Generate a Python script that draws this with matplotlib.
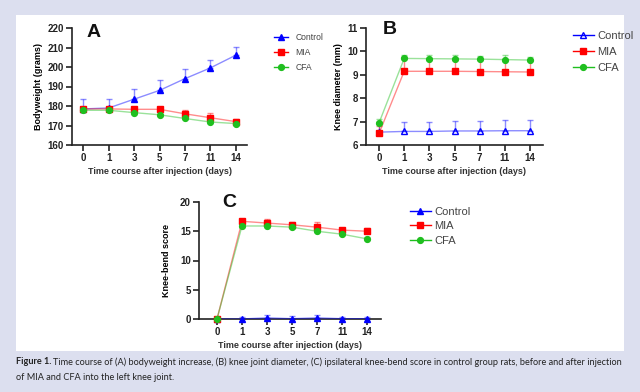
import matplotlib
matplotlib.use("Agg")
import matplotlib.pyplot as plt
import numpy as np

plt.rcParams['font.family'] = ['Liberation Sans', 'DejaVu Sans']

days = ['0', '1', '3', '5', '7', '11', '14']
groups = ['Control', 'MIA', 'CFA']

bw_control = [178.5, 179.0, 183.5, 188.0, 194.0, 199.5, 206.0]
bw_control_err = [5.0, 4.5, 5.0, 5.5, 5.0, 4.0, 4.5]
bw_mia = [178.5, 178.5, 178.3, 178.3, 176.0, 174.0, 172.0]
bw_mia_err = [1.0, 0.8, 1.0, 1.0, 2.0, 2.5, 1.2]
bw_cfa = [177.8, 177.8, 176.6, 175.5, 173.6, 171.8, 171.0]
bw_cfa_err = [0.5, 0.5, 0.5, 0.5, 0.5, 0.5, 0.5]

kd_control = [6.55, 6.58, 6.58, 6.60, 6.60, 6.61, 6.61]
kd_control_err = [0.40, 0.42, 0.42, 0.42, 0.44, 0.44, 0.44]
kd_mia = [6.50, 9.15, 9.15, 9.15, 9.14, 9.13, 9.12]
kd_mia_err = [0.3, 0.55, 0.5, 0.5, 0.5, 0.5, 0.5]
kd_cfa = [6.95, 9.70, 9.69, 9.68, 9.67, 9.65, 9.63]
kd_cfa_err = [0.15, 0.15, 0.15, 0.15, 0.15, 0.18, 0.15]

kb_control = [0.0, 0.0, 0.2, 0.05, 0.2, 0.05, 0.05]
kb_control_err = [0.3, 0.3, 0.5, 0.4, 0.5, 0.3, 0.3]
kb_mia = [0.0, 16.7, 16.4, 16.1, 15.7, 15.2, 15.0]
kb_mia_err = [0.2, 0.4, 0.7, 0.5, 0.8, 0.4, 0.5]
kb_cfa = [0.0, 15.9, 15.9, 15.7, 15.0, 14.5, 13.7]
kb_cfa_err = [0.2, 0.3, 0.3, 0.3, 0.3, 0.3, 0.3]

W, H = 640, 392
fig = plt.figure(figsize=(W / 100, H / 100), dpi=100)
fig.patch.set_facecolor('#dcdfef')

# white panel (background axes)
bg = fig.add_axes([16 / W, 1 - 351 / H, 608 / W, (351 - 15) / H], zorder=-10)
bg.set_facecolor('white')
bg.set_xticks([])
bg.set_yticks([])
for s in bg.spines.values():
    s.set_visible(False)

colors = {'Control': '#0000ff', 'MIA': '#ff0000', 'CFA': '#1fbf1f'}
markers = {'Control': '^', 'MIA': 's', 'CFA': 'o'}
msize = {'Control': 4.5, 'MIA': 4.2, 'CFA': 4.2}


def make_ax(left, right, top, bottom):
    return fig.add_axes([left / W, 1 - bottom / H, (right - left) / W, (bottom - top) / H])


def draw(ax, series, open_control=False, xlim=(-0.45, 6.45)):
    x = np.arange(len(days))
    handles = []
    for name, vals, errs in series:
        c = colors[name]
        ax.errorbar(x, vals, yerr=[np.zeros(len(errs)), errs], fmt='none',
                    ecolor=c, alpha=0.45, elinewidth=1.0, capsize=2.5, capthick=1.0, zorder=2)
        ax.plot(x, vals, color=c, alpha=0.45, lw=1.0, zorder=3)
        mfc = 'none' if (open_control and name == 'Control') else c
        ax.plot(x, vals, linestyle='none', marker=markers[name], color=c,
                markerfacecolor=mfc, markersize=msize[name], markeredgewidth=1.0, zorder=4,
                clip_on=False)
        h, = ax.plot([], [], color=c, lw=1.0, marker=markers[name], markersize=msize[name],
                     markerfacecolor=mfc, markeredgewidth=1.0)
        handles.append(h)
    ax.set_xticks(x)
    ax.set_xticklabels(days)
    ax.set_xlim(*xlim)
    for s in ['top', 'right']:
        ax.spines[s].set_visible(False)
    for s in ['left', 'bottom']:
        ax.spines[s].set_linewidth(1.2)
        ax.spines[s].set_color('#222222')
    ax.tick_params(axis='both', length=4, width=1.2, labelsize=7, colors='#222222', pad=2)
    for lab in ax.get_xticklabels() + ax.get_yticklabels():
        lab.set_fontweight('bold')
    ax.set_facecolor('none')
    return handles


def letter(txt, x, y):
    fig.text(x / W, 1 - y / H, txt, fontsize=14, fontweight='bold', va='baseline',
             ha='left', color='#111111')


# Panel A
axA = make_ax(72, 247, 28, 145)
hA = draw(axA, [('Control', bw_control, bw_control_err),
                ('MIA', bw_mia, bw_mia_err),
                ('CFA', bw_cfa, bw_cfa_err)])
axA.set_ylim(160, 220)
axA.set_yticks(np.arange(160, 221, 10))
axA.set_ylabel('Bodyweight (grams)', fontsize=6.5, fontweight='bold', labelpad=3)
axA.set_xlabel('Time course after injection (days)', fontsize=6.5, fontweight='bold', labelpad=2.5, color='#333333')
letter('A', 87, 37)
legA = fig.legend(hA, groups, loc='upper left', bbox_to_anchor=(268 / W, 1 - 27 / H), frameon=False,
                  fontsize=6.2, handlelength=1.6, labelspacing=0.7, handletextpad=0.9,
                  borderpad=0.2)
for t in legA.get_texts():
    t.set_color('#444444')

# Panel B
axB = make_ax(366, 543, 28, 145)
hB = draw(axB, [('Control', kd_control, kd_control_err),
                ('MIA', kd_mia, kd_mia_err),
                ('CFA', kd_cfa, kd_cfa_err)], open_control=True, xlim=(-0.52, 6.52))
axB.set_ylim(6, 11)
axB.set_yticks(np.arange(6, 12, 1))
axB.set_ylabel('Knee diameter (mm)', fontsize=6.5, fontweight='bold', labelpad=3)
axB.set_xlabel('Time course after injection (days)', fontsize=6.5, fontweight='bold', labelpad=2.5, color='#333333')
letter('B', 383, 34)
legB = fig.legend(hB, groups, loc='upper left', bbox_to_anchor=(565 / W, 1 - 23 / H), frameon=False,
                  fontsize=8, handlelength=1.9, labelspacing=0.55, handletextpad=0.3,
                  borderpad=0.2)
for t in legB.get_texts():
    t.set_color('#444444')

# Panel C
axC = make_ax(199, 381, 202, 319)
hC = draw(axC, [('Control', kb_control, kb_control_err),
                ('MIA', kb_mia, kb_mia_err),
                ('CFA', kb_cfa, kb_cfa_err)], xlim=(-0.72, 6.56))
axC.set_ylim(0, 20)
axC.set_yticks(np.arange(0, 21, 5))
axC.set_ylabel('Knee-bend score', fontsize=6.5, fontweight='bold', labelpad=6)
axC.set_xlabel('Time course after injection (days)', fontsize=6.5, fontweight='bold', labelpad=2.5, color='#333333')
letter('C', 222, 207)
legC = fig.legend(hC, groups, loc='upper left', bbox_to_anchor=(402 / W, 1 - 199 / H), frameon=False,
                  fontsize=8, handlelength=1.9, labelspacing=0.4, handletextpad=0.3,
                  borderpad=0.2)
for t in legC.get_texts():
    t.set_color('#444444')

# Caption
cap_font = ['Lato', 'Open Sans', 'DejaVu Sans']
cap_rest = ('Time course of (A) bodyweight increase, (B) knee joint diameter, (C) ipsilateral '
            'knee-bend score in control group rats, before and after injection')
fs = 7.0
t1 = fig.text(16 / W, 1 - 362 / H, 'Figure 1.', fontsize=fs, family=cap_font,
              fontweight='bold', va='center', ha='left', color='#222222')
t2 = fig.text(0, 1 - 362 / H, cap_rest, fontsize=fs, family=cap_font,
              va='center', ha='left', color='#222222')
t3 = fig.text(16 / W, 1 - 377 / H, 'of MIA and CFA into the left knee joint.',
              fontsize=fs, family=cap_font, va='center', ha='left', color='#222222')
fig.canvas.draw()
r = fig.canvas.get_renderer()
total = t1.get_window_extent(r).width + 2 + t2.get_window_extent(r).width
fs2 = fs * 606 / total
for t in (t1, t2, t3):
    t.set_fontsize(fs2)
fig.canvas.draw()
bb = t1.get_window_extent(r)
t2.set_x((bb.x1 + 2) / W)

fig.savefig('out.png', dpi=100, facecolor=fig.get_facecolor())
